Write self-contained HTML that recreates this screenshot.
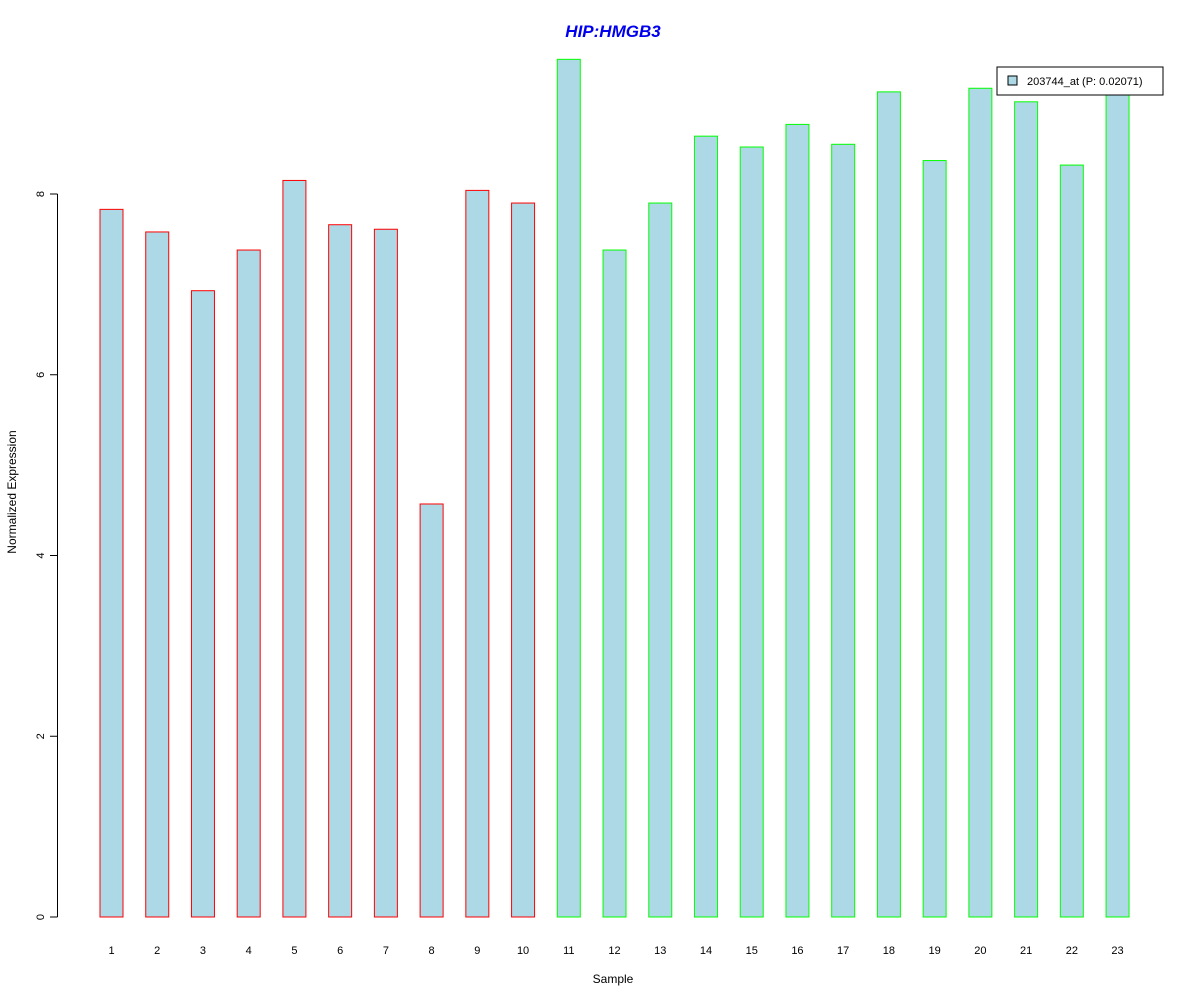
<!DOCTYPE html>
<html><head><meta charset="utf-8"><style>
body{margin:0;background:#fff}
svg text{font-family:"Liberation Sans",Arial,sans-serif}
</style></head><body>
<svg id="chart" width="1200" height="1000" xmlns="http://www.w3.org/2000/svg">
<rect width="1200" height="1000" fill="#fff"/>
<text x="613" y="37" text-anchor="middle" font-size="17" font-weight="bold" font-style="italic" fill="#0000ee">HIP:HMGB3</text>
<text x="613" y="983" text-anchor="middle" font-size="12">Sample</text>
<text transform="translate(16,492) rotate(-90)" text-anchor="middle" font-size="12">Normalized Expression</text>
<g id="bars"></g>
<g id="yaxis"></g>
<g id="xlabels"></g>
<g>
<rect x="997" y="67" width="166" height="28" fill="#fff" stroke="#000"/>
<rect x="1008" y="76" width="9" height="9" fill="#add8e6" stroke="#000"/>
<text x="1027" y="85" font-size="11">203744_at (P: 0.02071)</text>
</g>
</svg>
<script>
const categories=["1","2","3","4","5","6","7","8","9","10","11","12","13","14","15","16","17","18","19","20","21","22","23"];
const values=[7.83,7.58,6.93,7.38,8.15,7.66,7.61,4.57,8.04,7.90,9.49,7.38,7.90,8.64,8.52,8.77,8.55,9.13,8.37,9.17,9.02,8.32,9.15];
const groups=["r","r","r","r","r","r","r","r","r","r","g","g","g","g","g","g","g","g","g","g","g","g","g"];
const yTicks=[0,2,4,6,8];
const NS="http://www.w3.org/2000/svg";
const y=v=>917-v*90.375;
const x=i=>111.5+i*45.73;
const bw=23;
const bars=document.getElementById('bars');
values.forEach((v,i)=>{
 const r=document.createElementNS(NS,'rect');
 
 
 r.setAttribute('x',x(i)-bw/2);r.setAttribute('y',y(v));
 r.setAttribute('width',bw);r.setAttribute('height',y(0)-y(v));
 r.setAttribute('fill','#add8e6');
 r.setAttribute('stroke',groups[i]=='r'?'#ff0000':'#00ff00');
 bars.appendChild(r);
 const t=document.createElementNS(NS,'text');
 
 
 t.setAttribute('x',x(i));t.setAttribute('y',954);
 t.setAttribute('text-anchor','middle');t.setAttribute('font-size','11');
 t.textContent=categories[i];
 document.getElementById('xlabels').appendChild(t);
});
const ya=document.getElementById('yaxis');
const ax=document.createElementNS(NS,'line');


ax.setAttribute('x1',57.5);ax.setAttribute('x2',57.5);
ax.setAttribute('y1',y(yTicks[0]));ax.setAttribute('y2',y(yTicks[yTicks.length-1]));
ax.setAttribute('stroke','#000');ya.appendChild(ax);
yTicks.forEach(v=>{
 const l=document.createElementNS(NS,'line');
 
 
 l.setAttribute('x1',50);l.setAttribute('x2',57.5);
 l.setAttribute('y1',y(v));l.setAttribute('y2',y(v));
 l.setAttribute('stroke','#000');ya.appendChild(l);
 const t=document.createElementNS(NS,'text');
 
 
 t.setAttribute('transform','translate(44,'+y(v)+') rotate(-90)');
 t.setAttribute('text-anchor','middle');t.setAttribute('font-size','11');
 t.textContent=v;ya.appendChild(t);
});
</script>
</body></html>
